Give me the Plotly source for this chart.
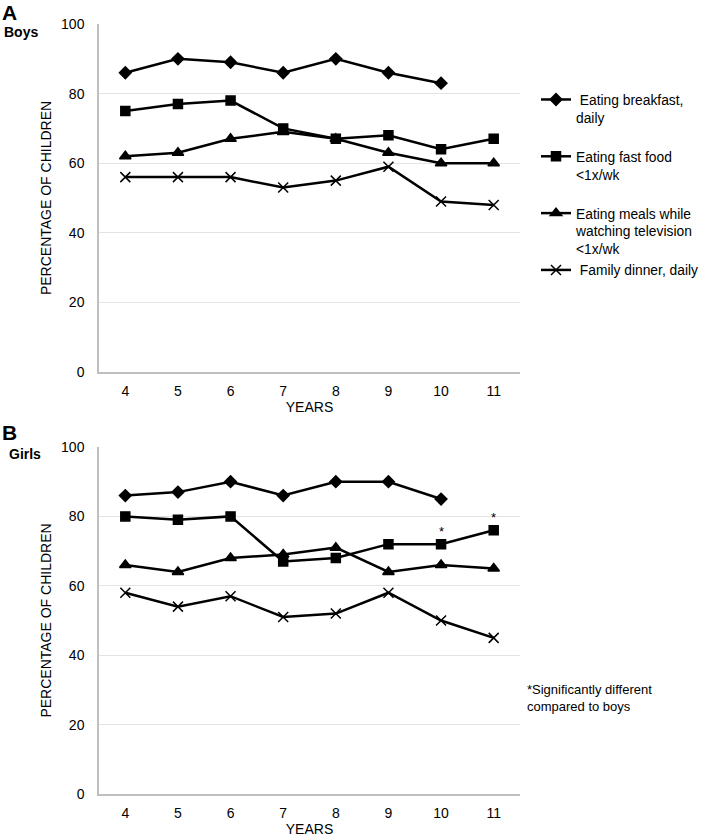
import plotly.graph_objects as go

# Ages (years)
years = [4, 5, 6, 7, 8, 9, 10, 11]

# Boys (% of children)
boys_breakfast = [86, 90, 89, 86, 90, 86, 83, None]
boys_fastfood = [75, 77, 78, 70, 67, 68, 64, 67]
boys_tv = [62, 63, 67, 69, 67, 63, 60, 60]
boys_dinner = [56, 56, 56, 53, 55, 59, 49, 48]

# Girls (% of children)
girls_breakfast = [86, 87, 90, 86, 90, 90, 85, None]
girls_fastfood = [80, 79, 80, 67, 68, 72, 72, 76]
girls_tv = [66, 64, 68, 69, 71, 64, 66, 65]
girls_dinner = [58, 54, 57, 51, 52, 58, 50, 45]

# Significant differences (girls vs boys), fast food series
sig_years = [10, 11]
sig_values = [72, 76]

series_names = [
    "&nbsp;Eating breakfast,<br>daily<br>&nbsp;",
    "Eating fast food<br>&lt;1x/wk<br>&nbsp;",
    "Eating meals while<br>watching television<br>&lt;1x/wk",
    "&nbsp;Family dinner, daily",
]
symbols = ["diamond", "square", "triangle-up", "x-thin-open"]
sizes = [9, 9, 10, 10]

FONT = "Liberation Sans, Arial, sans-serif"
W, H = 708, 840

fig = go.Figure()

panels = [
    ("x", "y", [boys_breakfast, boys_fastfood, boys_tv, boys_dinner], True),
    ("x2", "y2", [girls_breakfast, girls_fastfood, girls_tv, girls_dinner], False),
]
for xa, ya, data, show in panels:
    for name, vals, sym, sz in zip(series_names, data, symbols, sizes):
        fig.add_trace(
            go.Scatter(
                x=years,
                y=vals,
                xaxis=xa,
                yaxis=ya,
                mode="lines+markers",
                name=name,
                showlegend=show,
                line=dict(color="black", width=2.5),
                marker=dict(
                    symbol=sym,
                    size=sz,
                    color="black",
                    line=dict(color="black", width=1.5),
                ),
            )
        )

x_dom = [99 / W, 520 / W]
axis_common = dict(
    showline=True,
    linecolor="#bfbfbf",
    linewidth=1.5,
    tickfont=dict(size=14, color="black"),
    ticks="outside",
    tickcolor="rgba(0,0,0,0)",
)
xcommon = dict(
    axis_common,
    range=[3.5, 11.5],
    dtick=1,
    showgrid=False,
    ticklen=5,
    title=dict(text="YEARS", font=dict(size=14, color="black"), standoff=4),
)
ycommon = dict(
    axis_common,
    range=[0, 100],
    dtick=20,
    showgrid=True,
    gridcolor="#e3e3e3",
    gridwidth=1,
    zeroline=False,
    ticklen=10,
    title=dict(
        text="PERCENTAGE OF CHILDREN", font=dict(size=14, color="black"), standoff=6
    ),
)

annotations = [
    dict(text="<b>A</b>", x=0, y=1 - 13 / H, xanchor="left", yanchor="middle",
         font=dict(size=21)),
    dict(text="<b>Boys</b>", x=2 / W, y=1 - 32 / H, xanchor="left", yanchor="middle",
         font=dict(size=14)),
    dict(text="<b>B</b>", x=0, y=1 - 433 / H, xanchor="left", yanchor="middle",
         font=dict(size=21)),
    dict(text="<b>Girls</b>", x=7 / W, y=1 - 454 / H, xanchor="left", yanchor="middle",
         font=dict(size=14)),
    dict(text="*Significantly different<br>compared to boys", x=525 / W,
         y=1 - 680 / H, xanchor="left", yanchor="top", align="left",
         font=dict(size=13)),
]
for annotation in annotations:
    annotation.update(xref="paper", yref="paper", showarrow=False)

for sx, sv in zip(sig_years, sig_values):
    annotations.append(
        dict(text="*", x=sx, y=sv, xref="x2", yref="y2", showarrow=False,
             yshift=13, font=dict(size=13))
    )

fig.update_layout(
    width=W,
    height=H,
    margin=dict(l=0, r=0, t=0, b=0, autoexpand=False),
    paper_bgcolor="white",
    plot_bgcolor="white",
    font=dict(family=FONT, color="black"),
    xaxis=dict(xcommon, domain=x_dom, anchor="y"),
    yaxis=dict(ycommon, domain=[1 - 372 / H, 1 - 24 / H], anchor="x"),
    xaxis2=dict(xcommon, domain=x_dom, anchor="y2"),
    yaxis2=dict(ycommon, domain=[1 - 794 / H, 1 - 447 / H], anchor="x2"),
    legend=dict(
        x=536 / W,
        xanchor="left",
        y=1 - 84 / H,
        yanchor="top",
        valign="top",
        font=dict(size=13.8, color="black"),
        bgcolor="rgba(0,0,0,0)",
        tracegroupgap=0,
    ),
    annotations=annotations,
    showlegend=True,
)

# drop the page's default body margin so the figure sits at the window corner
fig.write_html(
    "out.html",
    config={"displayModeBar": False},
    post_script="document.body.style.margin = '0';",
)
